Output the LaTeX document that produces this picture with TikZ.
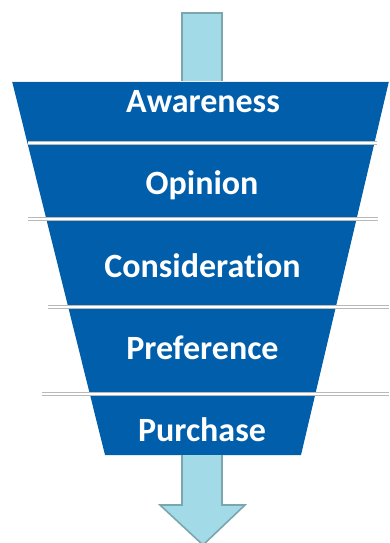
\documentclass[tikz,border=0pt]{standalone}
\usepackage{fontspec}
\setmainfont{Carlito}[RawFeature=-liga]
\usepackage{xcolor}
\definecolor{funnelblue}{RGB}{0,94,170}
\definecolor{arrowfill}{RGB}{163,218,232}
\definecolor{arrowline}{RGB}{122,166,174}
\definecolor{sepgray}{RGB}{185,185,185}
\tikzset{
  stage/.style={text=white,font=\fontsize{34}{40}\selectfont\bfseries,inner sep=0pt,anchor=base},
  sepline/.style={sepgray,line width=3.2pt},
  sepfill/.style={white,line width=1.6pt}
}
\begin{document}
\begin{tikzpicture}[x=1pt,y=-1pt]
        \useasboundingbox (0,0) rectangle (389,543);
        % shaft into the funnel
        \draw [arrowline, fill=arrowfill, line width=2pt] (182,13) rectangle (222,86);
        % funnel
        \fill [funnelblue] (12,81) -- (389,81) -- (301,455) -- (105,455) -- cycle;
        \draw [white!85!gray, line width=0.8pt] (12,81) -- (389,81);
        % separators
        \draw [sepline] (28,143) -- (377,143);
        \draw [sepfill] (28,143) -- (377,143);
        \draw [sepline] (28,219) -- (378,219);
        \draw [sepfill] (28,219) -- (378,219);
        \draw [sepline] (48,307) -- (389,307);
        \draw [sepfill] (48,307) -- (389,307);
        \draw [sepline] (42,394) -- (389,394);
        \draw [sepfill] (42,394) -- (389,394);
        % arrow out of the funnel
        \draw [arrowline, fill=arrowfill, line width=1.6pt, line join=miter]
            (182,455) -- (182,505) -- (160,505) -- (203,545) -- (245,505) -- (222,505) -- (222,455);
        % stages
        \node [stage] (aware) at (203,112) {Awareness};
        \node [stage] (opinion) at (202,194) {Opinion};
        \node [stage] (consider) at (202.5,277) {Consideration};
        \node [stage] (prefer) at (202.5,359) {Preference};
        \node [stage] (purchase) at (202,441) {Purchase};
\end{tikzpicture}
\end{document}
